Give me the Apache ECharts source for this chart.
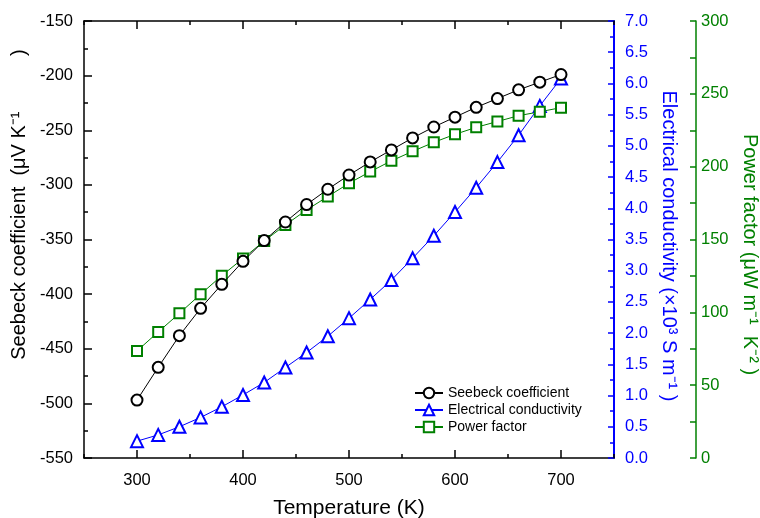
<!DOCTYPE html>
<html>
<head>
<meta charset="utf-8">
<script src="https://cdn.jsdelivr.net/npm/echarts@6/dist/echarts.min.js"></script>
<style>html,body{margin:0;padding:0;background:#fff}#c{width:760px;height:518px}</style>
</head>
<body>
<div id="c"></div>
<script>
const temperatures = [300,320,340,360,380,400,420,440,460,480,500,520,540,560,580,600,620,640,660,680,700];
const seebeck = [-497,-467,-438,-413,-391,-370,-351,-334,-318,-304,-291,-279,-268,-257,-247,-238,-229,-221,-213,-206,-199];
const conductivity = [0.27,0.37,0.50,0.65,0.82,1.01,1.21,1.45,1.69,1.95,2.24,2.54,2.85,3.20,3.56,3.94,4.33,4.74,5.17,5.64,6.08];
const powerFactor = [73.5,86.5,99.3,112.4,125.2,137,149,160,170.3,179.5,188.6,196.6,204,210.5,216.7,222.2,227,231,235,237.7,240.5];
const xMajorTicks = [300,400,500,600,700];
const xMinorTicks = [250,350,450,550,650,750];

const FONT = 'Liberation Sans, Arial, Helvetica, sans-serif';
const BLUE = '#0000ff';
const GREEN = '#008000';
const pair = (ys) => temperatures.map((t, i) => [t, ys[i]]);

const chart = echarts.init(document.getElementById('c'), null, {renderer: 'canvas'});
const xBase = {type: 'value', min: 250, max: 750, splitLine: {show: false}};
chart.setOption({
  animation: false,
  backgroundColor: '#fff',
  textStyle: {fontFamily: FONT},
  grid: {left: 84, right: 146, top: 21, bottom: 60, containLabel: false, outerBoundsMode: 'none'},
  legend: {
    orient: 'vertical', left: 414, top: 386, padding: 0, itemGap: 3,
    itemWidth: 28, itemHeight: 13,
    textStyle: {fontFamily: FONT, fontSize: 14, color: '#000'},
    data: ['Seebeck coefficient', 'Electrical conductivity', 'Power factor']
  },
  xAxis: [
    Object.assign({}, xBase, {
      position: 'bottom',
      name: 'Temperature (K)', nameLocation: 'middle', nameGap: 40,
      nameTextStyle: {fontFamily: FONT, fontSize: 21, color: '#000'},
      axisLine: {show: true, lineStyle: {color: '#000', width: 1.5}},
      axisTick: {show: true, inside: true, length: 8, customValues: xMajorTicks, lineStyle: {color: '#000', width: 1.5}},
      axisLabel: {show: true, customValues: xMajorTicks, margin: 14, fontFamily: FONT, fontSize: 16.5, color: '#000'}
    }),
    Object.assign({}, xBase, {
      position: 'bottom',
      axisLine: {show: false},
      axisTick: {show: true, inside: true, length: 4, customValues: xMinorTicks, lineStyle: {color: '#000', width: 1.5}},
      axisLabel: {show: false}
    }),
    Object.assign({}, xBase, {
      position: 'top',
      axisLine: {show: true, lineStyle: {color: '#000', width: 1.5}},
      axisTick: {show: true, inside: true, length: 8, customValues: xMajorTicks, lineStyle: {color: '#000', width: 1.5}},
      axisLabel: {show: false}
    }),
    Object.assign({}, xBase, {
      position: 'top',
      axisLine: {show: false},
      axisTick: {show: true, inside: true, length: 4, customValues: xMinorTicks, lineStyle: {color: '#000', width: 1.5}},
      axisLabel: {show: false}
    })
  ],
  yAxis: [
    {
      type: 'value', position: 'left', min: -550, max: -150, interval: 50,
      name: 'Seebeck coefficient  (\u03bcV K\u207b\u00b9          )', nameLocation: 'middle', nameGap: 40, nameRotate: 90,
      nameTextStyle: {fontFamily: FONT, fontSize: 20, color: '#000', padding: [0, 0, 0, 70]},
      splitLine: {show: false},
      axisLine: {show: true, lineStyle: {color: '#000', width: 1.5}},
      axisTick: {show: true, inside: true, length: 8, lineStyle: {color: '#000', width: 1.5}},
      minorTick: {show: true, splitNumber: 2, length: 4, lineStyle: {color: '#000', width: 1.5}},
      axisLabel: {margin: 11, fontFamily: FONT, fontSize: 16.5, color: '#000'}
    },
    {
      type: 'value', position: 'right', offset: 0, min: 0, max: 7, interval: 0.5,
      name: 'Electrical conductivity (\u00d710\u00b3 S m\u207b\u00b9 )', nameLocation: 'middle', nameGap: 38, nameRotate: -90,
      nameTextStyle: {fontFamily: FONT, fontSize: 20, color: BLUE, padding: [0, 0, 0, 13]},
      splitLine: {show: false},
      axisLine: {show: true, lineStyle: {color: BLUE, width: 2}},
      axisTick: {show: true, inside: true, length: 6, lineStyle: {color: BLUE, width: 1.5}},
      minorTick: {show: true, splitNumber: 2, length: 4, lineStyle: {color: BLUE, width: 1.5}},
      axisLabel: {margin: 11, fontFamily: FONT, fontSize: 16.5, color: BLUE, formatter: v => v.toFixed(1)}
    },
    {
      type: 'value', position: 'right', offset: 82, min: 0, max: 300, interval: 50,
      name: 'Power factor (\u03bcW m\u207b\u00b9  K\u207b\u00b2 )', nameLocation: 'middle', nameGap: 43, nameRotate: -90,
      nameTextStyle: {fontFamily: FONT, fontSize: 20, color: GREEN, padding: [0, 0, 0, 30]},
      splitLine: {show: false},
      axisLine: {show: true, lineStyle: {color: GREEN, width: 1.5}},
      axisTick: {show: true, inside: true, length: 6, lineStyle: {color: GREEN, width: 1.5}},
      minorTick: {show: true, splitNumber: 2, length: 6, lineStyle: {color: GREEN, width: 1.5}},
      axisLabel: {margin: 5, fontFamily: FONT, fontSize: 16.5, color: GREEN}
    }
  ],
  series: [
    {
      name: 'Seebeck coefficient', type: 'line', xAxisIndex: 0, yAxisIndex: 0,
      data: pair(seebeck), symbol: 'emptyCircle', symbolSize: 11,
      itemStyle: {color: '#000', borderWidth: 1.2}, lineStyle: {color: '#000', width: 1}, z: 4
    },
    {
      name: 'Electrical conductivity', type: 'line', xAxisIndex: 0, yAxisIndex: 1,
      data: pair(conductivity), symbol: 'emptyTriangle', symbolSize: 12,
      itemStyle: {color: BLUE, borderWidth: 1.2}, lineStyle: {color: BLUE, width: 1}, z: 3
    },
    {
      name: 'Power factor', type: 'line', xAxisIndex: 0, yAxisIndex: 2,
      data: pair(powerFactor), symbol: 'emptyRect', symbolSize: 10,
      itemStyle: {color: GREEN, borderWidth: 1.2}, lineStyle: {color: GREEN, width: 1}, z: 3
    }
  ]
});
</script>
</body>
</html>
